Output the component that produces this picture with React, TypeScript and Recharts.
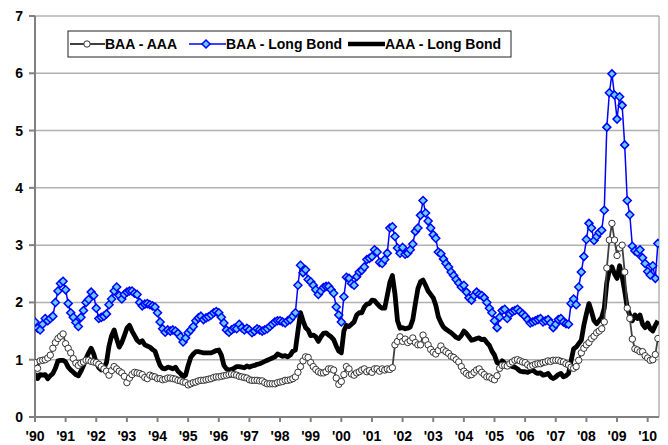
import { CartesianGrid, Line, LineChart, ReferenceLine, XAxis, YAxis } from 'recharts';

// x axis labels, one per January from 1990 to 2010
const yearLabels = [
  "'90", "'91", "'92", "'93", "'94", "'95", "'96", "'97", "'98", "'99", "'00",
  "'01", "'02", "'03", "'04", "'05", "'06", "'07", "'08", "'09", "'10",
];
const yTicks = [0, 1, 2, 3, 4, 5, 6, 7];

// monthly spreads, Jan 1990 .. May 2010 (percentage points)
const baaAaa = [
  0.95, 0.85, 0.98, 0.99, 1.0, 1.03, 1.08, 1.2, 1.3, 1.37, 1.41, 1.45,
  1.28, 1.2, 1.12, 1.02, 0.94, 0.9, 0.94, 0.96, 0.99, 0.99, 0.97, 0.96,
  0.95, 0.92, 0.88, 0.84, 0.8, 0.73, 0.81, 0.88, 0.84, 0.8, 0.77, 0.71,
  0.6, 0.68, 0.74, 0.78, 0.77, 0.76, 0.74, 0.69, 0.67, 0.73, 0.71, 0.7,
  0.67, 0.67, 0.65, 0.66, 0.68, 0.68, 0.67, 0.66, 0.64, 0.63, 0.61, 0.6,
  0.56, 0.58, 0.6, 0.61, 0.63, 0.64, 0.64, 0.65, 0.66, 0.67, 0.69, 0.7,
  0.7, 0.71, 0.72, 0.73, 0.74, 0.75, 0.74, 0.73, 0.71, 0.7, 0.69, 0.68,
  0.65, 0.64, 0.64, 0.64, 0.63, 0.63, 0.6, 0.58, 0.58, 0.58, 0.58, 0.6,
  0.61, 0.62, 0.64, 0.64, 0.65, 0.67, 0.7, 0.78, 0.88, 0.98, 1.05, 1.04,
  0.95, 0.88, 0.83, 0.79, 0.77, 0.77, 0.79, 0.84, 0.84, 0.82, 0.68, 0.57,
  0.62, 0.74, 0.88, 0.84, 0.75, 0.73, 0.77, 0.79, 0.82, 0.84, 0.79, 0.81,
  0.78, 0.84, 0.84, 0.8, 0.84, 0.82, 0.84, 0.83, 0.86, 1.26, 1.32, 1.4,
  1.32, 1.36, 1.3, 1.33, 1.38, 1.3, 1.26, 1.26, 1.43, 1.34, 1.26, 1.18,
  1.13, 1.1, 1.16, 1.24, 1.17, 1.14, 1.11, 1.06, 1.04, 1.0, 0.96, 0.88,
  0.8, 0.76, 0.73, 0.74, 0.78, 0.82, 0.84, 0.78, 0.74, 0.7, 0.7, 0.67,
  0.65, 0.72, 0.85, 0.9, 0.9, 0.89, 0.93, 0.96, 0.99, 1.0, 0.98, 0.96,
  0.95, 0.91, 0.88, 0.9, 0.92, 0.93, 0.93, 0.95, 0.96, 0.98, 0.97, 0.99,
  0.99, 0.99, 0.97, 0.96, 0.93, 0.91, 0.87, 0.85, 0.88, 0.99, 1.12, 1.2,
  1.26, 1.3, 1.37, 1.41, 1.47, 1.5, 1.54, 1.66, 2.6, 3.09, 3.38, 3.09,
  2.82, 2.95, 3.0, 2.53, 1.9, 1.72, 1.36, 1.19, 1.17, 1.14, 1.14, 1.07,
  1.03, 0.99, 1.0, 1.09, 1.37,
];

const baaLongBond = [
  1.66, 1.55, 1.52, 1.62, 1.72, 1.68, 1.72, 1.76, 2.0, 2.2, 2.33, 2.37,
  2.22, 1.98, 1.82, 1.74, 1.65, 1.58, 1.74, 1.86, 2.0, 2.05, 2.18, 2.12,
  1.9, 1.72, 1.74, 1.76, 1.8, 1.96, 2.06, 2.2, 2.27, 2.12, 2.06, 2.14,
  2.18, 2.2, 2.2, 2.16, 2.14, 2.0, 1.94, 1.97, 1.98, 1.96, 1.94, 1.92,
  1.82, 1.66, 1.54, 1.48, 1.52, 1.5, 1.52, 1.5, 1.46, 1.4, 1.31, 1.38,
  1.47, 1.52, 1.58, 1.68, 1.73, 1.76, 1.7, 1.73, 1.75, 1.78, 1.82, 1.84,
  1.82, 1.74, 1.64, 1.52, 1.48, 1.52, 1.55, 1.54, 1.62, 1.56, 1.52, 1.55,
  1.52, 1.47, 1.5, 1.54, 1.52, 1.5, 1.52, 1.54, 1.58, 1.62, 1.66, 1.68,
  1.68, 1.66, 1.64, 1.68, 1.7, 1.76, 1.82, 2.3, 2.65, 2.52, 2.57, 2.4,
  2.36, 2.3, 2.22, 2.14, 2.2, 2.26, 2.28, 2.28, 2.22, 2.16, 1.92, 1.78,
  1.66, 2.1, 2.44, 2.42, 2.33, 2.3, 2.45, 2.53, 2.56, 2.62, 2.75, 2.77,
  2.8, 2.92, 2.88, 2.7, 2.68, 2.75, 2.86, 3.3, 3.32, 3.15, 2.95, 2.86,
  2.96, 2.84, 2.86, 2.92, 3.02, 3.24, 3.3, 3.52, 3.78, 3.56, 3.42, 3.3,
  3.18, 3.12, 2.88, 2.85, 2.76, 2.68, 2.62, 2.53, 2.47, 2.4, 2.34, 2.27,
  2.3, 2.18, 2.08, 2.04, 2.12, 2.18, 2.14, 2.12, 2.08, 2.0, 1.9, 1.82,
  1.68, 1.56, 1.74, 1.86, 1.88, 1.72, 1.8, 1.84, 1.86, 1.88, 1.84, 1.8,
  1.76, 1.7, 1.64, 1.66, 1.68, 1.7, 1.72, 1.66, 1.68, 1.7, 1.64, 1.56,
  1.62, 1.7, 1.72, 1.66, 1.63, 1.62, 1.98, 2.06, 1.96, 2.27, 2.53, 2.8,
  3.1, 3.38, 3.3, 3.08, 3.15, 3.22, 3.26, 3.61, 5.06, 5.66, 5.99, 5.62,
  5.2, 5.59, 5.44, 4.75, 3.78, 3.53, 2.98, 2.9, 2.87, 2.92, 2.78, 2.68,
  2.54, 2.48, 2.64, 2.42, 3.03,
];

const aaaLongBond = [
  0.76, 0.67, 0.74, 0.73, 0.74, 0.67, 0.72, 0.76, 0.85, 0.98, 0.99, 0.99,
  0.96, 0.87, 0.82, 0.78, 0.74, 0.72, 0.8, 0.9, 1.02, 1.12, 1.2, 1.1,
  0.95, 0.86, 0.82, 0.85, 0.95, 1.24, 1.42, 1.52, 1.36, 1.22, 1.3, 1.42,
  1.55, 1.6, 1.5, 1.42, 1.34, 1.3, 1.33, 1.26, 1.24, 1.22, 1.18, 1.15,
  1.02, 0.9, 0.85, 0.84, 0.87, 0.86, 0.84, 0.87, 0.8, 0.76, 0.7, 0.73,
  0.9, 1.04, 1.1, 1.14, 1.14, 1.13, 1.12, 1.12, 1.12, 1.12, 1.14, 1.16,
  1.17, 1.08, 0.9, 0.84, 0.82, 0.83, 0.85, 0.88, 0.88, 0.87, 0.86, 0.89,
  0.87, 0.89, 0.9, 0.92, 0.93, 0.95, 0.97, 0.99, 1.01, 1.03, 1.05, 1.1,
  1.08, 1.06, 1.07, 1.05, 1.08, 1.15, 1.17, 1.5, 1.82, 1.68, 1.56, 1.52,
  1.42, 1.43, 1.4, 1.32, 1.4, 1.46, 1.47, 1.43, 1.4, 1.35, 1.24, 1.15,
  1.12, 1.5, 1.6, 1.58, 1.62, 1.66, 1.78, 1.82, 1.82, 1.92, 1.97, 1.98,
  2.04, 2.03, 1.98, 1.93, 1.9, 1.9, 2.12, 2.35, 2.47, 2.15, 1.68, 1.55,
  1.56, 1.54, 1.55, 1.57, 1.7, 1.98, 2.24, 2.36, 2.39, 2.3, 2.2, 2.14,
  2.08, 1.95, 1.75, 1.65, 1.57, 1.53, 1.5, 1.47, 1.43, 1.39, 1.37, 1.42,
  1.5, 1.46, 1.4, 1.34, 1.35, 1.37, 1.38, 1.35, 1.36, 1.3, 1.25, 1.15,
  1.08, 0.95, 0.92, 0.98, 0.94, 0.88, 0.9, 0.88, 0.87, 0.84, 0.8, 0.79,
  0.79, 0.78, 0.8, 0.82, 0.78, 0.76, 0.77, 0.73, 0.74, 0.76, 0.7, 0.67,
  0.7, 0.74, 0.76, 0.7, 0.72, 0.76, 0.98, 1.19, 1.22, 1.28, 1.34, 1.6,
  1.8, 1.98, 1.84, 1.68, 1.63, 1.68, 1.74, 1.9, 2.35, 2.56, 2.62, 2.5,
  2.42, 2.64, 2.45, 2.2, 1.9, 1.78, 1.68, 1.78, 1.72, 1.78, 1.62, 1.56,
  1.64, 1.54, 1.5, 1.6, 1.68,
];

const rows = baaAaa.map((v, i) => ({
  t: i / 12,
  baaAaa: v,
  baaLong: baaLongBond[i],
  aaaLong: aaaLongBond[i],
}));

const yearTicks = yearLabels.map((_, i) => i);
const X_MAX = 20.37;
const FONT = '"Liberation Sans", Arial, sans-serif';
const tickStyle = { fill: '#000', fontSize: 14, fontWeight: 700, fontFamily: FONT };

const Diamond = (props: any) => {
  const { cx, cy, index } = props;
  if (cx == null || cy == null) return <g key={`d${index}`} />;
  const s = 4;
  return (
    <path
      key={`d${index}`}
      d={`M${cx},${cy - s}L${cx + s},${cy}L${cx},${cy + s}L${cx - s},${cy}Z`}
      fill="#66ccff"
      stroke="#0000ff"
      strokeWidth={1.5}
    />
  );
};

function LegendBox() {
  const text = { fontFamily: FONT, fontSize: 14, fontWeight: 700, fill: '#000' };
  return (
    <svg width={445} height={28} style={{ position: 'absolute', left: 59, top: 22 }}>
      <rect x={1} y={1} width={443} height={26} fill="#fff" stroke="#222" strokeWidth={1} />
      <line x1={3} y1={14} x2={38} y2={14} stroke="#404040" strokeWidth={2} />
      <circle cx={20} cy={14} r={3.2} fill="#fff" stroke="#333" strokeWidth={1} />
      <text x={38} y={19} {...text}>BAA - AAA</text>
      <line x1={122} y1={14} x2={159} y2={14} stroke="#0000ff" strokeWidth={1.5} />
      <path d="M139,10L143,14L139,18L135,14Z" fill="#66ccff" stroke="#0000ff" strokeWidth={1.5} />
      <text x={159} y={19} {...text}>BAA - Long Bond</text>
      <line x1={281} y1={14} x2={318} y2={14} stroke="#000" strokeWidth={4.5} />
      <text x={318} y={19} {...text}>AAA - Long Bond</text>
    </svg>
  );
}

export default function App() {
  return (
    <div style={{ position: 'relative', width: 660, height: 437 }}>
      <LineChart width={660} height={437} data={rows} margin={{ top: 8, right: 9, bottom: 0, left: 0 }}>
        <CartesianGrid vertical={false} stroke="#b0b0b0" strokeWidth={1.5} />
        <ReferenceLine x={X_MAX} stroke="#a0a0a0" strokeWidth={1.2} />
        <XAxis
          dataKey="t"
          type="number"
          domain={[0, X_MAX]}
          ticks={yearTicks}
          interval={0}
          allowDataOverflow
          tickFormatter={(v: number) => yearLabels[v] ?? ''}
          height={28}
          tickSize={5}
          tickMargin={9}
          stroke="#808080"
          strokeWidth={2}
          tick={tickStyle}
        />
        <YAxis
          domain={[0, 7]}
          ticks={yTicks}
          interval={0}
          width={27}
          tickSize={6}
          tickMargin={6}
          stroke="#808080"
          strokeWidth={2}
          tick={tickStyle}
        />
        <Line
          dataKey="aaaLong"
          name="AAA - Long Bond"
          stroke="#000"
          strokeWidth={4.8}
          strokeLinejoin="round"
          dot={false}
          activeDot={false}
          isAnimationActive={false}
        />
        <Line
          dataKey="baaAaa"
          name="BAA - AAA"
          stroke="#404040"
          strokeWidth={1.8}
          dot={{ r: 3.2, fill: '#fff', stroke: '#333', strokeWidth: 1 }}
          activeDot={false}
          isAnimationActive={false}
        />
        <Line
          dataKey="baaLong"
          name="BAA - Long Bond"
          stroke="#0000ff"
          strokeWidth={1.5}
          dot={Diamond}
          activeDot={false}
          isAnimationActive={false}
        />
      </LineChart>
      <LegendBox />
    </div>
  );
}
